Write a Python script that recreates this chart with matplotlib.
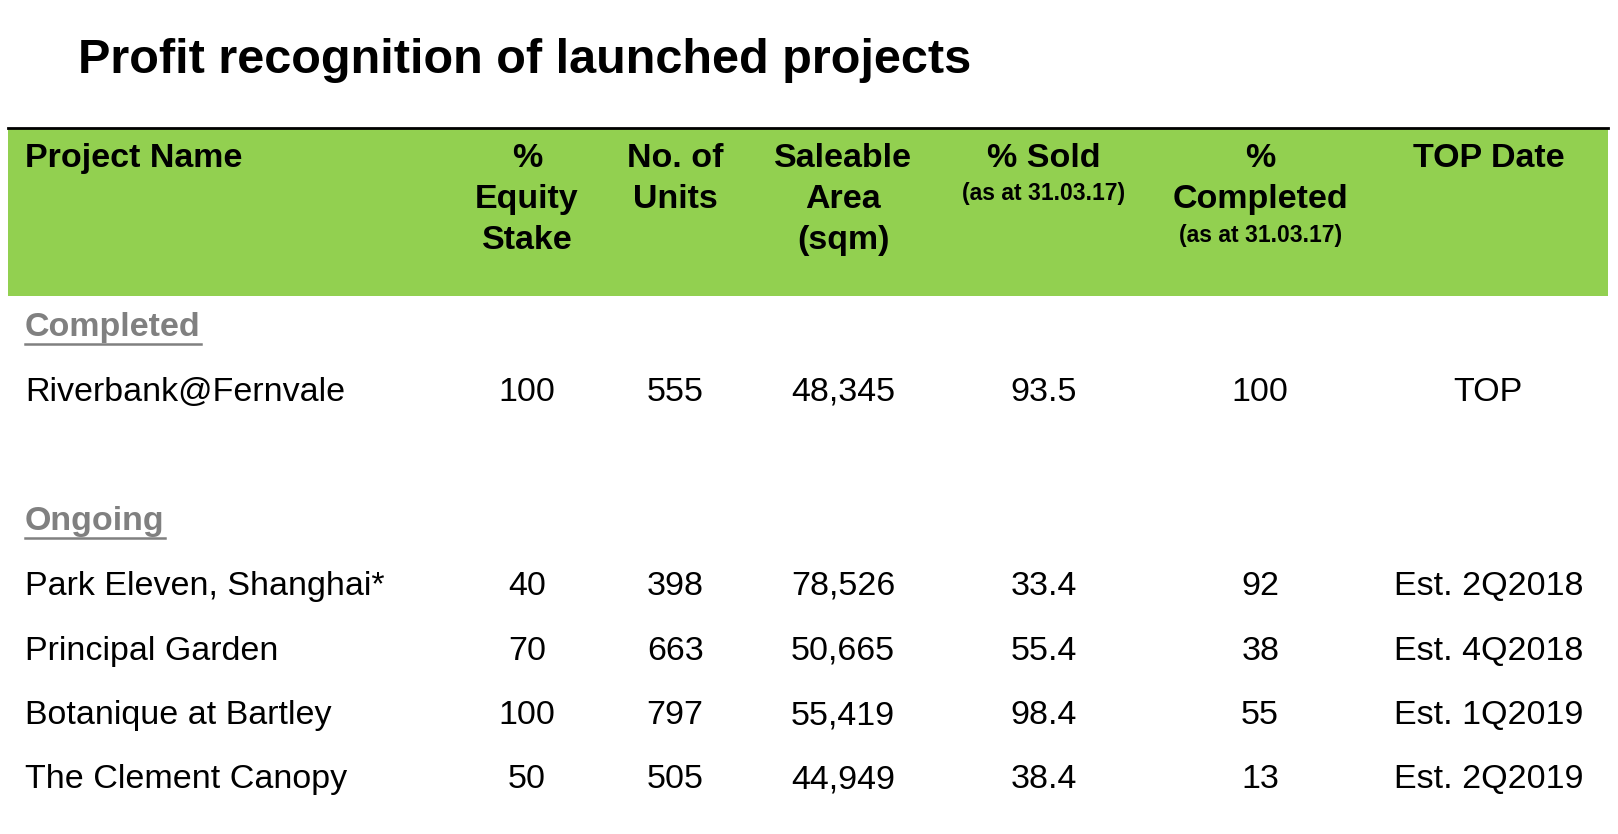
import matplotlib
matplotlib.use("Agg")
import matplotlib.pyplot as plt
from matplotlib.patches import Rectangle

plt.rcParams['font.family'] = ['Liberation Sans', 'DejaVu Sans']

title = "Profit recognition of launched projects"
headers = ["Project Name", "%\nEquity\nStake", "No. of\nUnits", "Saleable\nArea\n(sqm)", "% Sold", "%\nCompleted", "TOP Date"]
completed_projects = ["Riverbank@Fernvale"]
completed_equity = ["100"]
completed_units = ["555"]
completed_area = ["48,345"]
completed_sold = ["93.5"]
completed_pct = ["100"]
completed_top = ["TOP"]
ongoing_projects = ["Park Eleven, Shanghai*", "Principal Garden", "Botanique at Bartley", "The Clement Canopy"]
ongoing_equity = ["40", "70", "100", "50"]
ongoing_units = ["398", "663", "797", "505"]
ongoing_area = ["78,526", "50,665", "55,419", "44,949"]
ongoing_sold = ["33.4", "55.4", "98.4", "38.4"]
ongoing_pct = ["92", "38", "55", "13"]
ongoing_top = ["Est. 2Q2018", "Est. 4Q2018", "Est. 1Q2019", "Est. 2Q2019"]

W, H = 1618, 834
S = 1618 / 1560
fig = plt.figure(figsize=(W/100, H/100), dpi=100)
ax = fig.add_axes([0, 0, 1, 1])
ax.set_xlim(0, W/S); ax.set_ylim(H/S, 0); ax.axis('off')

ax.text(75, 58, title, fontsize=35, fontweight='bold', va='center', ha='left')
ax.add_patch(Rectangle((8, 123), 1542, 162, color='#92D050', lw=0))
ax.plot([8, 1550], [123, 123], color='black', lw=2)

cols = [508, 651, 813, 1006, 1215, 1435]
hs = 24.5
ax.text(24, 153, headers[0], fontsize=hs, fontweight='bold', va='center')
for x, h in zip(cols, headers[1:]):
    lines = h.split("\n")
    for i, ln in enumerate(lines):
        ax.text(x, 153 + i*39.5, ln, fontsize=hs, fontweight='bold', va='center', ha='center')
ax.text(cols[3], 187, "(as at 31.03.17)", fontsize=16.5, fontweight='bold', va='center', ha='center')
ax.text(cols[4], 227, "(as at 31.03.17)", fontsize=16.5, fontweight='bold', va='center', ha='center')

def section(label, y):
    t = ax.text(24, y, label, fontsize=hs, fontweight='bold', color='#808080', va='center')
    fig.canvas.draw()
    bb = t.get_window_extent().transformed(ax.transData.inverted())
    ax.plot([bb.x0, bb.x1], [y + 16, y + 16], color='#808080', lw=1.8)

def rows(names, cols_data, ys):
    for j, y in enumerate(ys):
        ax.text(24, y, names[j], fontsize=hs, va='center')
        for x, d in zip(cols, cols_data):
            ax.text(x, y, d[j], fontsize=hs, va='center', ha='center')

section("Completed", 316)
rows(completed_projects, [completed_equity, completed_units, completed_area, completed_sold, completed_pct, completed_top], [378])
section("Ongoing", 503)
rows(ongoing_projects, [ongoing_equity, ongoing_units, ongoing_area, ongoing_sold, ongoing_pct, ongoing_top], [565, 628, 690, 752])

fig.savefig("out.png", dpi=100, facecolor='white')
